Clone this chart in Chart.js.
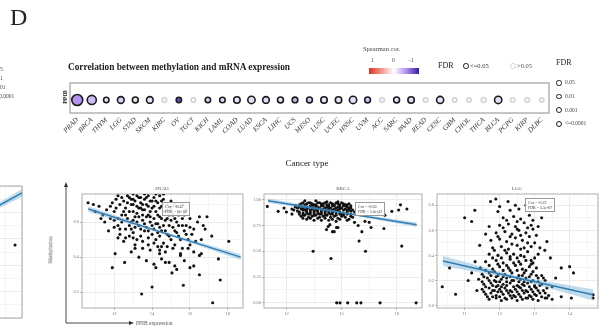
<!DOCTYPE html>
<html>
<head>
<meta charset="utf-8">
<script src="https://cdn.jsdelivr.net/npm/chart.js@4.4.1/dist/chart.umd.min.js"></script>
<style>
  html, body { margin: 0; padding: 0; background: #fff; }
  #fig { position: relative; width: 602px; height: 330px; overflow: hidden; background: #fff;
         font-family: "Liberation Serif", "DejaVu Serif", serif; color: #222; }
  #fig canvas { position: absolute; left: 0; top: 0; }
  .t { position: absolute; white-space: nowrap; line-height: 1; }
  .ring { position: absolute; border-radius: 50%; box-sizing: border-box; background: #fff; }
  .note { position: absolute; border: 0.7px solid #9a9a9a; background: rgba(255,255,255,0.9);
          font-size: 4px; line-height: 5px; padding: 1px 2px; color: #333; white-space: nowrap; }
</style>
</head>
<body>
<div id="fig"></div>
<script>
// ---------- bubble panel: methylation vs mRNA correlation per cancer type ----------
const cancers = ['PRAD','BRCA','THYM','LGG','STAD','SKCM','KIRC','OV','TGCT','KICH','LAML',
  'COAD','LUAD','ESCA','LIHC','UCS','MESO','LUSC','UCEC','HNSC','UVM','ACC','SARC','PAAD',
  'READ','CESC','GBM','CHOL','THCA','BLCA','PCPG','KIRP','DLBC'];
const spearmanCor = [-0.47,-0.30,-0.12,-0.22,-0.10,-0.14,-0.03,-0.80,-0.02,-0.20,-0.16,
  -0.12,-0.15,-0.16,-0.12,-0.30,-0.25,-0.12,-0.13,-0.14,-0.26,-0.06,-0.12,-0.17,
  -0.05,-0.14,-0.04,-0.05,-0.03,-0.15,-0.02,-0.03,-0.04];
const fdrValues = [0, 5.0e-22, 2e-2, 5.5e-7, 1e-3, 1e-6, 0.35, 3e-2, 0.45, 2e-2, 1e-2,
  1e-5, 1e-9, 1e-6, 1e-3, 5e-3, 2e-3, 1e-5, 1e-5, 1e-9, 2e-3, 0.30, 1e-3, 1e-5,
  0.40, 1e-8, 0.50, 0.60, 0.25, 1e-9, 0.55, 0.35, 0.70];
const fdrLegendLevels = [0.05, 0.01, 0.001, 0.0001];
const fdrLegendLabels = ['0.05', '0.01', '0.001', '<=0.0001'];

// ---------- scatter panels: PPIB expression (x) vs methylation (y) ----------
const pradPoints = [
  [12.3,0.70],[12.5,0.72],[12.6,0.68],[12.8,0.74],[12.9,0.70],[13.0,0.66],[13.1,0.72],[13.2,0.69],
  [13.3,0.74],[13.4,0.71],[13.5,0.67],[13.6,0.73],[13.7,0.70],[13.8,0.64],[13.9,0.72],[14.0,0.68],
  [14.1,0.74],[14.2,0.66],[14.3,0.71],[14.4,0.63],[14.5,0.69],[14.6,0.73],[14.7,0.66],[14.8,0.70],
  [12.4,0.64],[12.7,0.62],[12.9,0.60],[13.1,0.63],[13.3,0.58],[13.5,0.61],[13.7,0.57],[13.9,0.60],
  [14.1,0.56],[14.3,0.59],[14.5,0.55],[14.7,0.61],[14.9,0.58],[15.1,0.64],[15.3,0.60],[15.5,0.66],
  [15.6,0.62],[15.8,0.58],[12.2,0.58],[12.6,0.56],[13.0,0.54],[13.4,0.52],[13.6,0.55],[13.8,0.51],
  [14.0,0.53],[14.2,0.50],[14.4,0.52],[14.6,0.48],[14.8,0.53],[15.0,0.50],[15.2,0.55],[15.4,0.52],
  [15.7,0.55],[15.9,0.50],[16.1,0.53],[16.3,0.49],[12.0,0.66],[11.8,0.62],[11.6,0.67],[11.9,0.71],
  [12.1,0.73],[11.4,0.64],[11.2,0.69],[11.0,0.66],[13.2,0.75],[13.6,0.76],[12.7,0.75],[14.4,0.75],
  [15.0,0.72],[15.3,0.69],[15.8,0.67],[16.0,0.62],[16.4,0.60],[16.7,0.58],[16.9,0.63],[13.1,0.47],
  [13.5,0.45],[13.9,0.44],[14.3,0.46],[14.7,0.43],[15.1,0.45],[15.5,0.42],[12.5,0.49],[12.9,0.43],
  [13.3,0.40],[13.7,0.38],[14.1,0.36],[14.5,0.39],[14.9,0.37],[15.3,0.33],[15.7,0.38],[16.2,0.43],
  [16.5,0.41],[12.8,0.52],[12.3,0.53],[13.7,0.63],[14.9,0.64],[15.6,0.70],[12.0,0.57],[11.7,0.55],
  [18.05,0.49],[17.5,0.39],[17.6,0.27],[17.2,0.14],[15.65,0.24],[14.0,0.23],[13.45,0.19],[11.9,0.34],
  [12.05,0.42],[12.55,0.37],[10.62,0.71],[15.05,0.31],[16.2,0.35],[16.5,0.30],[16.6,0.42],[16.6,0.50],
  [17.15,0.52],[16.8,0.56],[14.4,0.42],[14.7,0.37],[14.2,0.34],[15.2,0.35],[15.5,0.41],[15.9,0.45],
  [13.0,0.51],[12.2,0.51],[13.1,0.45],[16.0,0.34],[14.5,0.46],[16.5,0.63],
  [12.1,0.68],[12.2,0.62],[12.4,0.74],[12.4,0.60],[12.5,0.66],[12.6,0.64],[12.7,0.71],[12.8,0.58],
  [12.8,0.66],[12.9,0.73],[13.0,0.70],[13.0,0.61],[13.1,0.57],[13.2,0.65],[13.2,0.60],[13.3,0.68],
  [13.3,0.63],[13.4,0.56],[13.4,0.74],[13.5,0.64],[13.5,0.70],[13.6,0.59],[13.6,0.67],[13.7,0.74],
  [13.8,0.69],[13.8,0.55],[13.9,0.66],[13.9,0.63],[14.0,0.72],[14.0,0.58],[14.1,0.62],[14.1,0.69],
  [14.2,0.72],[14.2,0.59],[14.3,0.64],[14.3,0.54],[14.4,0.68],[14.4,0.57],[14.5,0.62],[14.5,0.72],
  [14.6,0.58],[14.6,0.66],[14.7,0.55],[14.8,0.62],[14.8,0.67],[14.9,0.52],[15.0,0.61],[15.0,0.68],
  [15.1,0.57],[15.2,0.62],[15.2,0.70],[15.3,0.54],[15.4,0.64],[15.4,0.58],[15.5,0.50],[15.6,0.58],
  [15.7,0.64],[15.8,0.53],[16.0,0.57],[16.2,0.56],[12.3,0.56],[12.6,0.51],[12.9,0.56],[13.2,0.50],
  [13.5,0.49],[13.8,0.47],[14.1,0.48],[14.4,0.44],[14.8,0.46],[15.2,0.47],[15.6,0.45],[16.0,0.47],
  [13.0,0.73],[13.4,0.68],[13.8,0.75],[14.2,0.76],[14.6,0.76],[13.0,0.76],[12.2,0.75],[11.5,0.60],
  [11.8,0.69],[12.0,0.61],[11.3,0.62],[10.9,0.70]
];
const brcaPoints = [
  [12.7,0.95],[12.9,0.97],[13.1,0.96],[13.3,0.97],[13.5,0.95],[13.7,0.97],[13.9,0.96],[14.1,0.97],
  [14.3,0.95],[14.5,0.96],[14.7,0.97],[14.9,0.95],[15.1,0.96],[15.3,0.95],[15.5,0.94],
  [12.6,0.92],[12.8,0.91],[13.0,0.93],[13.2,0.92],[13.4,0.91],[13.6,0.93],[13.8,0.92],[14.0,0.91],
  [14.2,0.93],[14.4,0.92],[14.6,0.91],[14.8,0.93],[15.0,0.92],[15.2,0.91],[15.4,0.92],[15.6,0.90],
  [12.7,0.88],[12.9,0.87],[13.1,0.89],[13.3,0.88],[13.5,0.87],[13.7,0.89],[13.9,0.88],[14.1,0.87],
  [14.3,0.89],[14.5,0.88],[14.7,0.87],[14.9,0.88],[15.1,0.87],[15.3,0.88],[15.5,0.86],
  [12.8,0.84],[13.0,0.85],[13.2,0.83],[13.4,0.84],[13.6,0.85],[13.8,0.83],[14.0,0.84],[14.2,0.85],
  [14.4,0.83],[14.6,0.84],[14.8,0.82],[15.0,0.84],[15.2,0.83],[15.4,0.81],
  [12.8,0.94],[13.0,0.90],[13.2,0.86],[13.4,0.94],[13.6,0.90],[13.8,0.86],[14.0,0.94],[14.2,0.90],
  [14.4,0.86],[14.6,0.94],[14.8,0.90],[15.0,0.86],[15.2,0.94],[15.4,0.90],[13.1,0.81],[13.5,0.80],
  [13.9,0.80],[14.3,0.80],[14.7,0.79],[12.4,0.90],[12.5,0.94],[12.3,0.86],[13.0,0.99],[13.6,0.99],
  [14.2,0.98],[14.8,0.98],
  [12.8,0.96],[13.0,0.95],[13.2,0.97],[13.4,0.96],[13.6,0.95],[13.8,0.97],[14.0,0.96],[14.2,0.95],
  [14.4,0.97],[14.6,0.95],[14.8,0.96],[15.0,0.97],[15.2,0.95],[15.4,0.96],
  [12.7,0.93],[12.9,0.92],[13.1,0.93],[13.3,0.94],[13.5,0.92],[13.7,0.93],[13.9,0.94],[14.1,0.92],
  [14.3,0.93],[14.5,0.94],[14.7,0.92],[14.9,0.93],[15.1,0.94],[15.3,0.93],[15.5,0.92],
  [12.6,0.89],[12.9,0.90],[13.1,0.91],[13.3,0.90],[13.5,0.89],[13.7,0.91],[13.9,0.90],[14.1,0.89],
  [14.3,0.91],[14.5,0.90],[14.7,0.89],[14.9,0.91],[15.1,0.90],[15.3,0.90],[15.5,0.89],[15.7,0.88],
  [12.7,0.86],[12.9,0.85],[13.1,0.87],[13.3,0.86],[13.5,0.85],[13.7,0.87],[13.9,0.86],[14.1,0.85],
  [14.3,0.87],[14.5,0.86],[14.7,0.85],[14.9,0.86],[15.1,0.85],[15.3,0.86],[15.5,0.84],
  [12.9,0.82],[13.3,0.82],[13.7,0.82],[14.1,0.82],[14.5,0.81],[14.9,0.81],[15.3,0.80],[15.6,0.83],
  [10.96,0.935],[11.55,0.887],[11.87,0.92],[12.0,0.88],[12.3,0.91],[12.48,0.93],[14.18,0.71],
  [14.36,0.758],[14.5,0.69],[14.72,0.73],[14.27,0.74],[14.6,0.69],[14.8,0.73],[13.45,0.50],
  [14.42,0.43],[15.95,0.60],[16.1,0.69],[16.3,0.50],[16.6,0.73],[17.3,0.72],[18.27,0.55],
  [15.7,0.78],[15.9,0.75],[16.27,0.79],[16.5,0.78],[17.73,0.887],[18.1,0.90],[18.2,0.95],
  [18.55,0.91],[17.0,0.87],[17.35,0.85],
  [14.73,0.0],[14.91,0.0],[15.33,0.0],[15.82,0.0],[16.05,0.0],[17.09,0.0],[19.05,0.0]
];
const lggPoints = [
  [11.7,0.05],[11.9,0.06],[12.05,0.04],[12.2,0.05],[12.35,0.06],[12.5,0.04],[12.65,0.05],[12.8,0.06],
  [12.95,0.05],[13.1,0.04],[13.3,0.06],[13.5,0.05],
  [11.6,0.09],[11.75,0.10],[11.9,0.08],[12.1,0.09],[12.25,0.10],[12.4,0.08],[12.55,0.09],[12.7,0.10],
  [12.85,0.08],[13.0,0.09],[13.15,0.10],[13.4,0.08],
  [11.5,0.13],[11.7,0.14],[11.85,0.12],[12.0,0.13],[12.15,0.14],[12.3,0.12],[12.45,0.13],[12.6,0.14],
  [12.75,0.12],[12.9,0.13],[13.05,0.14],[13.25,0.12],
  [11.55,0.17],[11.75,0.18],[11.95,0.16],[12.1,0.17],[12.3,0.18],[12.5,0.16],[12.65,0.17],[12.8,0.18],
  [13.0,0.16],[13.2,0.17],
  [11.4,0.21],[11.65,0.22],[11.85,0.20],[12.05,0.21],[12.2,0.22],[12.4,0.20],[12.6,0.21],[12.75,0.22],
  [12.95,0.20],[13.1,0.22],
  [11.5,0.25],[11.7,0.26],[11.95,0.24],[12.15,0.25],[12.35,0.26],[12.55,0.24],[12.7,0.26],[12.9,0.25],
  [13.2,0.24],
  [11.45,0.30],[11.8,0.29],[12.0,0.31],[12.25,0.30],[12.45,0.32],[12.65,0.29],[12.85,0.31],[13.05,0.30],
  [11.6,0.35],[11.9,0.36],[12.1,0.34],[12.3,0.37],[12.55,0.35],[12.75,0.36],[12.95,0.34],
  [11.7,0.41],[11.95,0.40],[12.2,0.42],[12.4,0.41],[12.6,0.40],[12.8,0.43],[13.1,0.41],
  [11.8,0.46],[12.05,0.47],[12.25,0.45],[12.5,0.48],[12.7,0.46],[12.9,0.47],
  [11.75,0.52],[12.0,0.53],[12.2,0.51],[12.45,0.54],[12.65,0.52],[12.85,0.55],[13.0,0.50],
  [11.9,0.58],[12.15,0.59],[12.35,0.57],[12.55,0.60],[12.75,0.58],[12.95,0.61],
  [12.0,0.64],[12.25,0.65],[12.45,0.63],[12.7,0.66],[12.9,0.64],
  [12.1,0.70],[12.4,0.71],[12.6,0.69],[12.85,0.72],[12.3,0.76],[12.55,0.77],[11.95,0.75],
  [10.36,0.15],[10.74,0.09],[10.57,0.30],[11.0,0.70],[11.2,0.67],[11.29,0.76],[11.43,0.48],
  [11.74,0.83],[11.89,0.85],[12.24,0.83],[13.35,0.51],[13.29,0.44],[13.76,0.30],[14.0,0.31],
  [14.11,0.26],[14.67,0.06],[14.67,0.085],[14.05,0.06],[13.76,0.07],[12.9,0.36],[11.3,0.35],
  [11.2,0.26],[11.1,0.20],[11.35,0.12],[13.5,0.15],[13.6,0.22],[13.45,0.38],[13.2,0.70],
  [12.75,0.80],[11.6,0.57],
  [11.65,0.07],[11.8,0.07],[12.0,0.07],[12.15,0.06],[12.3,0.08],[12.45,0.07],[12.6,0.07],[12.75,0.06],
  [12.9,0.07],[13.05,0.08],[13.2,0.07],[13.35,0.06],
  [11.55,0.11],[11.8,0.12],[11.95,0.11],[12.05,0.11],[12.2,0.12],[12.35,0.11],[12.5,0.11],[12.65,0.12],
  [12.8,0.11],[12.95,0.11],[13.1,0.12],[13.3,0.10],
  [11.6,0.15],[11.8,0.16],[11.9,0.15],[12.05,0.15],[12.2,0.16],[12.4,0.15],[12.55,0.15],[12.7,0.16],
  [12.85,0.15],[13.0,0.15],[13.15,0.16],[13.35,0.14],
  [11.5,0.19],[11.7,0.20],[11.9,0.19],[12.0,0.19],[12.2,0.19],[12.35,0.20],[12.55,0.19],[12.7,0.19],
  [12.9,0.19],[13.1,0.19],[13.3,0.20],
  [11.55,0.23],[11.75,0.24],[11.9,0.23],[12.1,0.23],[12.3,0.23],[12.5,0.22],[12.65,0.24],[12.85,0.23],
  [13.05,0.24],[13.25,0.22],
  [11.6,0.28],[11.85,0.27],[12.1,0.28],[12.3,0.28],[12.5,0.28],[12.75,0.28],[12.95,0.27],[11.7,0.32],
  [11.95,0.33],[12.2,0.32],[12.4,0.34],[12.6,0.33],[12.9,0.33],[11.8,0.38],[12.05,0.38],[12.3,0.39],
  [12.5,0.38],[12.7,0.39],[13.0,0.38],
  [11.85,0.44],[12.15,0.44],[12.6,0.45],[12.35,0.49],[12.8,0.50],[11.95,0.55],[12.3,0.55],[12.6,0.56],
  [13.05,0.56],[12.1,0.62],[12.5,0.61],[12.8,0.62],[12.2,0.68],[12.5,0.67],[12.95,0.68],[12.0,0.79],
  [12.45,0.80],[13.1,0.63],[11.7,0.63],[13.15,0.46]
];
// previous panel, only its right edge is in view
const sidePoints = [[9.57,0.553]];

// fitted lines (x ends) and confidence band half-widths (start, middle, end)
const pradFit = { x: [10.63, 18.68], y: [0.674, 0.400], band: [0.016, 0.007, 0.016] };
const brcaFit = { x: [11.00, 19.08], y: [0.990, 0.758], band: [0.022, 0.008, 0.024] };
const lggFit  = { x: [10.38, 14.67], y: [0.355, 0.085], band: [0.040, 0.012, 0.045] };
const sideFit = { x: [4.00, 10.00],  y: [0.545, 0.947], band: [0.030, 0.012, 0.030] };

// ---------------------------------------------------------------------------
const fig = document.getElementById('fig');
const SERIF = '"Liberation Serif", "DejaVu Serif", serif';

function addText(txt, left, top, size, extra) {
  const d = document.createElement('div');
  d.className = 't';
  d.textContent = txt;
  d.style.left = left + 'px';
  d.style.top = top + 'px';
  d.style.fontSize = size + 'px';
  if (extra) Object.assign(d.style, extra);
  fig.appendChild(d);
  return d;
}
function newCanvas(shift) {
  const c = document.createElement('canvas');
  c.width = 602; c.height = 330;
  c.style.width = '602px'; c.style.height = '330px';
  c.style.left = (-(shift || 0)) + 'px';
  fig.appendChild(c);
  return c;
}

// colour for a Spearman coefficient: red (1) -> white (0) -> purple/blue (-1)
function mix(a, b, t) { return a.map((v, i) => Math.round(v + (b[i] - v) * t)); }
function corColor(r) {
  const white = [255,255,255], red = [224,48,30], lav = [176,140,242], blue = [48,32,160];
  let c;
  if (r >= 0) c = mix(white, red, Math.min(r, 1));
  else if (r > -0.5) c = mix(white, lav, -r / 0.5);
  else c = mix(lav, blue, (-r - 0.5) / 0.5);
  return `rgb(${c[0]},${c[1]},${c[2]})`;
}
function fdrRadius(f) {
  const l = f <= 0 ? 40 : Math.min(40, -Math.log10(f));
  return 2 + 0.55 * Math.sqrt(l);
}
function fdrText(f) {
  if (f === 0) return '0e+00';
  const [m, e] = f.toExponential(1).split('e');
  const n = parseInt(e, 10);
  return m + 'e' + (n < 0 ? '-' : '+') + String(Math.abs(n)).padStart(2, '0');
}

// fixed-size axes so each plot area sits exactly where wanted
function fixAxis(size) {
  return function (s) {
    if (s.isHorizontal()) s.height = size; else s.width = size;
    s.paddingLeft = s.paddingRight = s.paddingTop = s.paddingBottom = 0;
  };
}
const frame = {
  id: 'frame',
  beforeDatasetsDraw(chart, args, o) {
    const a = chart.chartArea, ctx = chart.ctx;
    ctx.save();
    ctx.strokeStyle = o.color || '#9a9a9a';
    ctx.lineWidth = o.width || 0.8;
    ctx.strokeRect(a.left, a.top, a.right - a.left, a.bottom - a.top);
    ctx.restore();
  }
};

// ---------------- bubble chart ----------------
new Chart(newCanvas(0), {
  type: 'bubble',
  data: {
    labels: cancers,
    datasets: [{
      data: cancers.map((c, i) => ({ x: c, y: 1, r: fdrRadius(fdrValues[i]) })),
      backgroundColor: spearmanCor.map(corColor),
      borderColor: fdrValues.map(f => f <= 0.05 ? '#1c1c1c' : '#d6d6d6'),
      borderWidth: 1.6
    }]
  },
  options: {
    responsive: false, animation: false, devicePixelRatio: 1, events: [],
    layout: { padding: { left: 70, top: 83, right: 53, bottom: 177 } },
    scales: {
      x: {
        type: 'category', offset: true,
        grid: { display: false, drawTicks: false }, border: { display: false },
        ticks: { autoSkip: false, minRotation: 45, maxRotation: 45, padding: 3, color: '#333',
                 font: { family: SERIF, style: 'italic', size: 7 } },
        afterFit: fixAxis(40)
      },
      y: { display: false, min: 0, max: 2.3 }
    },
    plugins: { legend: { display: false }, tooltip: { enabled: false },
               frame: { color: '#8c8c8c', width: 1 } }
  },
  plugins: [frame]
});

// ---------------- scatter panels ----------------
function bandSets(fit) {
  const xm = (fit.x[0] + fit.x[1]) / 2, ym = (fit.y[0] + fit.y[1]) / 2;
  const xs = [fit.x[0], xm, fit.x[1]], ys = [fit.y[0], ym, fit.y[1]];
  return {
    line: xs.map((x, i) => ({ x, y: ys[i] })),
    hi: xs.map((x, i) => ({ x, y: ys[i] + fit.band[i] })),
    lo: xs.map((x, i) => ({ x, y: ys[i] - fit.band[i] }))
  };
}
function isMajor(v, step) { return Math.abs(v / step - Math.round(v / step)) < 1e-6; }

function scatterPanel(p) {
  const b = bandSets(p.fit);
  const sh = p.shift || 0;
  const area = [p.area[0] + sh, p.area[1], p.area[2] + sh, p.area[3]];
  const showTicks = !p.noTicks;
  return new Chart(newCanvas(sh), {
    type: 'scatter',
    data: {
      datasets: [
        { type: 'line', data: b.line, borderColor: '#2f7db3', borderWidth: 1.5, pointRadius: 0,
          fill: false, order: 0 },
        { type: 'line', data: b.hi, borderWidth: 0, pointRadius: 0, fill: '+1',
          backgroundColor: 'rgba(120,178,214,0.45)', order: 1 },
        { type: 'line', data: b.lo, borderWidth: 0, pointRadius: 0, fill: false, order: 1 },
        { data: p.points.map(([x, y]) => ({ x, y })), pointRadius: 1.55, borderWidth: 0,
          backgroundColor: '#121212', order: 2 }
      ]
    },
    options: {
      responsive: false, animation: false, devicePixelRatio: 1, events: [],
      layout: { padding: { left: area[0] - 12, top: area[1], right: 602 - area[2],
                           bottom: 330 - area[3] - 10 } },
      scales: {
        x: {
          type: 'linear', min: p.x[0], max: p.x[1],
          ticks: { display: showTicks, stepSize: p.x[2], includeBounds: false, autoSkip: false, maxRotation: 0,
                   padding: 1, color: '#777', font: { family: SERIF, size: 4.5 },
                   callback: v => isMajor(v, p.x[3]) ? String(Math.round(v)) : '' },
          grid: { color: c => isMajor(c.tick.value, p.x[3]) ? '#e4e4e4' : '#f1f1f1', lineWidth: 0.7,
                  tickLength: 2, tickColor: c => (showTicks && isMajor(c.tick.value, p.x[3])) ? '#999' : 'rgba(0,0,0,0)' },
          border: { display: false },
          afterFit: fixAxis(10)
        },
        y: {
          type: 'linear', min: p.y[0], max: p.y[1],
          ticks: { display: showTicks, stepSize: p.y[2], includeBounds: false, autoSkip: false, padding: 1,
                   color: '#777', font: { family: SERIF, size: 4.5 },
                   callback: v => isMajor(v, p.y[3]) ? v.toFixed(p.y[4]) : '' },
          grid: { color: c => isMajor(c.tick.value, p.y[3]) ? '#e4e4e4' : '#f1f1f1', lineWidth: 0.7,
                  tickLength: 2, tickColor: c => (showTicks && isMajor(c.tick.value, p.y[3])) ? '#999' : 'rgba(0,0,0,0)' },
          border: { display: false },
          afterFit: fixAxis(12)
        }
      },
      plugins: { legend: { display: false }, tooltip: { enabled: false },
                 frame: { color: '#9a9a9a', width: 0.8 } }
    },
    plugins: [frame]
  });
}

scatterPanel({ area: [-140, 186, 22, 318], shift: 200, noTicks: true,
               x: [0, 10, 1, 2], y: [0, 1, 0.1, 0.2, 1], points: sidePoints, fit: sideFit });
scatterPanel({ area: [82, 194, 243, 308], x: [10.3, 18.8, 1, 2], y: [0.11, 0.76, 0.1, 0.2, 1],
               points: pradPoints, fit: pradFit });
scatterPanel({ area: [264, 194, 422, 308], x: [10.78, 19.37, 1.5, 3], y: [-0.05, 1.055, 0.125, 0.25, 2],
               points: brcaPoints, fit: brcaFit });
scatterPanel({ area: [437, 194, 598, 308], x: [10.21, 14.81, 0.5, 1], y: [-0.02, 0.89, 0.1, 0.2, 1],
               points: lggPoints, fit: lggFit });

// ---------------- text, legends and axis arrows ----------------
addText('D', 10, 5, 24);

// size legend of the neighbouring panel (clipped at the left edge)
['0.05', '0.01', '0.001', '<=0.0001'].forEach((s, i) => addText(s, -7, 67 + i * 9, 5.5, { color: '#444' }));

addText('Correlation between methylation and mRNA expression', 68, 63, 9.3, { fontWeight: 'bold' });

addText('Spearman cor.', 363, 46, 6.5, { color: '#444' });
addText('1', 371, 58, 5.5, { color: '#444' });
addText('0', 392, 58, 5.5, { color: '#444' });
addText('\u22121', 408, 58, 5.5, { color: '#444' });
const bar = document.createElement('div');
Object.assign(bar.style, { position: 'absolute', left: '369px', top: '68px', width: '50px', height: '6px',
  background: `linear-gradient(to right, ${corColor(1)}, ${corColor(0.5)}, ${corColor(0)}, ${corColor(-0.5)}, ${corColor(-1)})` });
fig.appendChild(bar);

function addRing(cx, cy, r, color) {
  const d = document.createElement('div');
  d.className = 'ring';
  Object.assign(d.style, { left: (cx - r) + 'px', top: (cy - r) + 'px', width: 2 * r + 'px', height: 2 * r + 'px',
    border: '1.6px solid ' + color });
  fig.appendChild(d);
}
addText('FDR', 438, 62, 8);
addRing(466, 66, 2.8, '#1c1c1c');
addText('<=0.05', 470, 62.5, 6.5, { color: '#333' });
addRing(513, 66, 2.8, '#d0d0d0');
addText('>0.05', 517, 62.5, 6.5, { color: '#555' });

addText('FDR', 556, 59, 8);
fdrLegendLevels.forEach((f, i) => {
  const cy = 83 + i * 13.7;
  addRing(559, cy, fdrRadius(f), '#1c1c1c');
  addText(fdrLegendLabels[i], 565, cy - 2.7, 5.5, { color: '#444' });
});

addText('PPIB', 65, 97, 6, { fontWeight: 'bold', transform: 'translate(-50%,-50%) rotate(-90deg)' });
addText('Cancer type', 307, 159, 9, { transform: 'translateX(-50%)' });

// scatter panel titles and correlation notes
const panels = [
  { name: 'PRAD', cx: 162, note: [162, 202] },
  { name: 'BRCA', cx: 343, note: [355, 202] },
  { name: 'LGG',  cx: 517, note: [525, 198] }
];
panels.forEach(p => {
  addText(p.name, p.cx, 186, 5, { transform: 'translateX(-50%)', color: '#555' });
  const i = cancers.indexOf(p.name);
  const n = document.createElement('div');
  n.className = 'note';
  n.style.left = p.note[0] + 'px';
  n.style.top = p.note[1] + 'px';
  n.innerHTML = 'Cor = ' + spearmanCor[i].toFixed(2) + '<br>FDR = ' + fdrText(fdrValues[i]);
  fig.appendChild(n);
});

addText('Methylation', 51, 250, 5.5, { color: '#555', transform: 'translate(-50%,-50%) rotate(-90deg)' });
addText('PPIB expression', 136, 321, 5.5, { color: '#555' });

const svgNS = 'http://www.w3.org/2000/svg';
const svg = document.createElementNS(svgNS, 'svg');
svg.setAttribute('width', '602'); svg.setAttribute('height', '330');
Object.assign(svg.style, { position: 'absolute', left: '0', top: '0' });
svg.innerHTML =
  '<path d="M66 323 V186 M66 323 H130" stroke="#333" stroke-width="0.9" fill="none"/>' +
  '<path d="M66 182 L64 187 L68 187 Z" fill="#333"/>' +
  '<path d="M134 323 L129 321 L129 325 Z" fill="#333"/>';
fig.appendChild(svg);
</script>
</body>
</html>
